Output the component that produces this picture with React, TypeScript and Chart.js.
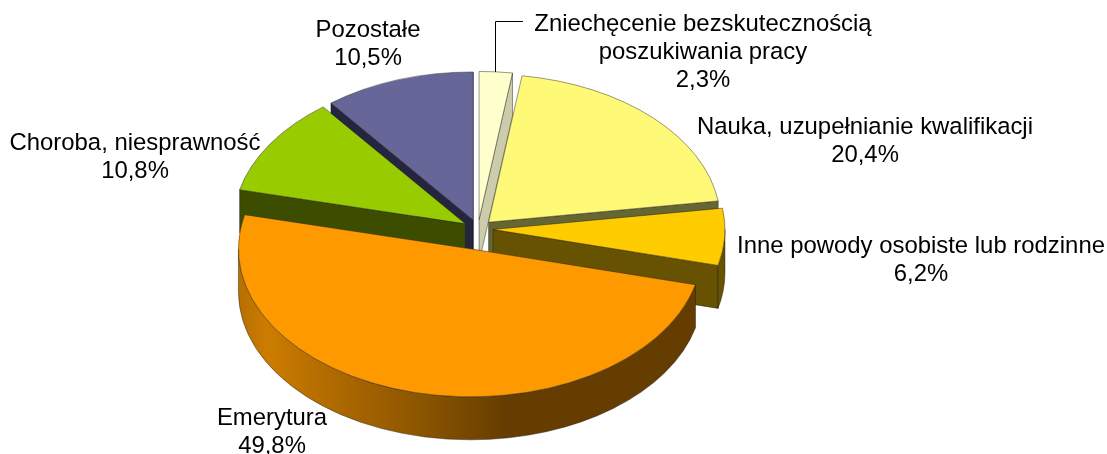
import React, { useEffect, useRef } from "react";
import { Chart, registerables } from "chart.js";

Chart.register(...registerables);

const categories = [
  ["Zniechęcenie bezskutecznością", "poszukiwania pracy"],
  ["Nauka, uzupełnianie kwalifikacji"],
  ["Inne powody osobiste lub rodzinne"],
  ["Emerytura"],
  ["Choroba, niesprawność"],
  ["Pozostałe"],
];
const values = [2.3, 20.4, 6.2, 49.8, 10.8, 10.5];
const faceColors = ["#FFFFCC", "#FFF978", "#FFCC00", "#FF9900", "#99CC00", "#666699"];
const sideColors = ["#CCCCAA", "#666633", "#665200", "#663D00", "#3D4D00", "#25253F"];
const explode = [15, 15, 15, 32, 15, 15];
const paintOrder = [5, 0, 1, 4, 2, 3];
const labelCentres = [
  [703, 24.5],
  [865, 127.5],
  [921, 246.5],
  [272, 418.5],
  [135, 143],
  [368, 30],
];

const W = 1107;
const H = 454;
const CX = 478;
const CY = 229;
const RX = 232;
const RY = 148;
const DEPTH = 43;
const LINE = 28;
const FONT = '23.9px "Liberation Sans", Arial, sans-serif';

const pie3d = {
  id: "pie3d",
  beforeDatasetDraw() {
    return false;
  },
  afterDatasetsDraw(chart: any) {
    const ctx: CanvasRenderingContext2D = chart.ctx;
    const arcs = chart.getDatasetMeta(0).data;

    for (const i of paintOrder) {
      const arc = arcs[i];
      const mid = (arc.startAngle + arc.endAngle) / 2;
      const sx = RX / arc.outerRadius;
      const sy = RY / arc.outerRadius;
      const ox = CX + Math.cos(mid) * explode[i];
      const oy = CY + Math.sin(mid) * explode[i] * (RY / RX);
      const pt = (t: number) => [ox + RX * Math.cos(t), oy + RY * Math.sin(t)];

      ctx.save();
      ctx.strokeStyle = "rgba(30,30,30,0.6)";
      ctx.lineWidth = 0.75;

      // radial cut faces that turn towards the viewer
      ctx.fillStyle = sideColors[i];
      const faces: [number, boolean][] = [
        [arc.startAngle, Math.cos(arc.startAngle) < 0],
        [arc.endAngle, Math.cos(arc.endAngle) > 0],
      ];
      for (const [t, visible] of faces) {
        if (!visible) continue;
        const p = pt(t);
        ctx.beginPath();
        ctx.moveTo(ox, oy);
        ctx.lineTo(p[0], p[1]);
        ctx.lineTo(p[0], p[1] + DEPTH);
        ctx.lineTo(ox, oy + DEPTH);
        ctx.closePath();
        ctx.fill();
        ctx.stroke();
      }

      // outer rim, only its near half shows
      const from = Math.max(arc.startAngle, 0);
      const to = Math.min(arc.endAngle, Math.PI);
      if (to > from) {
        if (i === 3) {
          const g = ctx.createLinearGradient(240, 0, 700, 0);
          g.addColorStop(0, "#B87000");
          g.addColorStop(0.06, "#CC7C00");
          g.addColorStop(0.2, "#B06A00");
          g.addColorStop(0.4, "#8A5400");
          g.addColorStop(0.58, "#663D00");
          g.addColorStop(1, "#663D00");
          ctx.fillStyle = g;
        }
        ctx.beginPath();
        ctx.ellipse(ox, oy, RX, RY, 0, from, to);
        ctx.ellipse(ox, oy + DEPTH, RX, RY, 0, to, from, true);
        ctx.closePath();
        ctx.fill();
        ctx.stroke();
      }

      // top face, drawn by the chart's own arc element
      ctx.save();
      ctx.translate(ox, oy);
      ctx.scale(sx, sy);
      ctx.translate(-arc.x, -arc.y);
      arc.draw(ctx, chart.chartArea);
      ctx.beginPath();
      ctx.moveTo(arc.x, arc.y);
      ctx.arc(arc.x, arc.y, arc.outerRadius, arc.startAngle, arc.endAngle);
      ctx.closePath();
      ctx.restore();
      ctx.stroke();
      ctx.restore();
    }

    // leader line
    ctx.save();
    ctx.strokeStyle = "#000";
    ctx.lineWidth = 1;
    ctx.beginPath();
    ctx.moveTo(495.5, 72);
    ctx.lineTo(495.5, 21.5);
    ctx.lineTo(523, 21.5);
    ctx.stroke();

    // labels
    ctx.fillStyle = "#000";
    ctx.font = FONT;
    ctx.textAlign = "center";
    ctx.textBaseline = "middle";
    categories.forEach((lines, i) => {
      const [x, y] = labelCentres[i];
      const text = [...lines, values[i].toFixed(1).replace(".", ",") + "%"];
      text.forEach((t, j) => ctx.fillText(t, x, y + j * LINE));
    });
    ctx.restore();
  },
};

export default function App() {
  const ref = useRef<HTMLCanvasElement>(null);
  useEffect(() => {
    const chart = new Chart(ref.current!, {
      type: "pie",
      data: {
        labels: categories.map((c) => c.join(" ")),
        datasets: [{ data: values, backgroundColor: faceColors, borderWidth: 0 }],
      },
      options: {
        responsive: false,
        animation: false,
        devicePixelRatio: 1,
        plugins: { legend: { display: false }, tooltip: { enabled: false } },
      },
      plugins: [pie3d],
    } as any);
    return () => chart.destroy();
  }, []);
  return (
    <canvas
      ref={ref}
      width={W}
      height={H}
      style={{ position: "fixed", left: 0, top: 0, width: W, height: H, display: "block", background: "#fff" }}
    />
  );
}
